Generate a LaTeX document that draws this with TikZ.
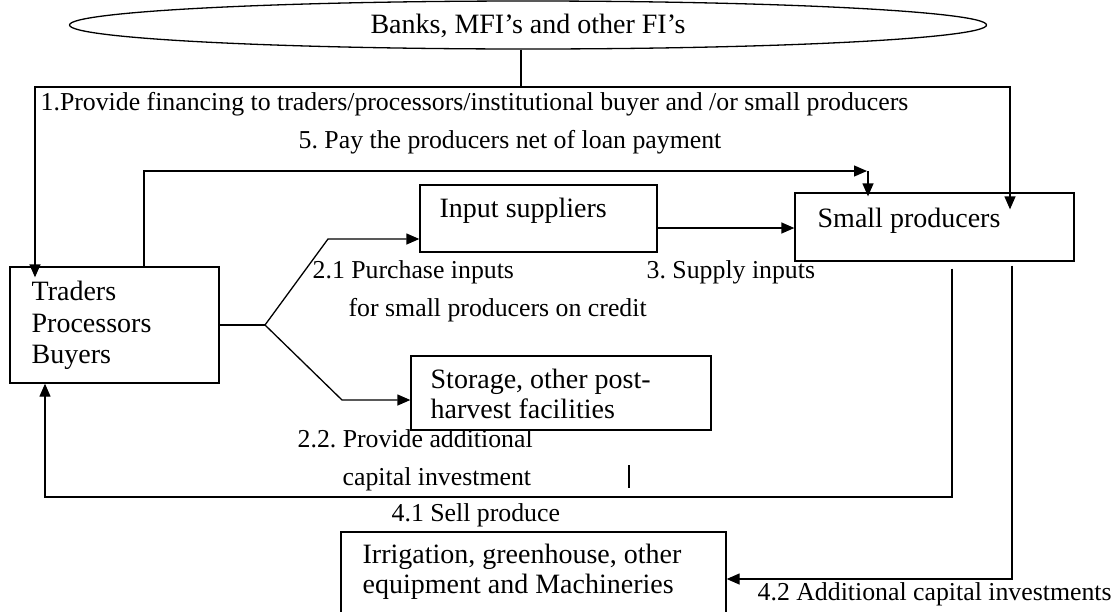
\documentclass[tikz,border=0pt]{standalone}
\usepackage{fontspec}
\setmainfont{Liberation Serif}
\usetikzlibrary{shapes.geometric,arrows.meta,calc}
\frenchspacing
\begin{document}
\begin{tikzpicture}[x=1pt,y=-1pt,line width=1.3pt,
  box/.style={draw,rectangle,inner sep=0pt},
  arr/.style={-{Triangle[length=13pt,width=11pt]}},
  boxtxt/.style={anchor=base west,inner sep=0pt,font=\fontsize{28}{32}\selectfont},
  lbl/.style={anchor=base west,inner sep=0pt,font=\fontsize{25.8}{30}\selectfont}]
\useasboundingbox (0,0) rectangle (1114,611);
\clip (0,0) rectangle (1114,611);
% nodes
\node[draw,ellipse,inner sep=0pt,minimum width=917pt,minimum height=48pt] (banks) at (528,25) {};
\node[anchor=base,inner sep=0pt,font=\fontsize{28}{32}\selectfont] (banksT) at (528,33) {Banks, MFI’s and other FI’s};
\node[box,minimum width=209pt,minimum height=116pt] (TR) at (114.5,325) {};
\node[boxtxt] (tr1) at (31,300) {Traders};
\node[boxtxt] (tr2) at (31,332) {Processors};
\node[boxtxt] (tr3) at (31,363) {Buyers};
\node[box,minimum width=237pt,minimum height=67pt] (IS) at (538.5,218.5) {};
\node[boxtxt] (isT) at (439,217) {Input suppliers};
\node[box,minimum width=279pt,minimum height=68pt] (SP) at (934.5,227) {};
\node[boxtxt] (spT) at (817,227) {Small producers};
\node[box,minimum width=300pt,minimum height=74pt] (ST) at (561,393) {};
\node[boxtxt] (st1) at (430,388) {Storage, other post-};
\node[boxtxt] (st2) at (430,418) {harvest facilities};
\node[box,minimum width=385pt,minimum height=100pt] (IR) at (533.5,582) {};
\node[boxtxt] (ir1) at (362,563) {Irrigation, greenhouse, other};
\node[boxtxt] (ir2) at (362,593) {equipment and Machineries};
% labels
\node[lbl] (l1) at (40,110) {1.Provide financing to traders/processors/institutional buyer and /or small producers};
\node[lbl] (l5) at (298,148) {5. Pay the producers net of loan payment};
\node[lbl] (l21a) at (312,278) {2.1 Purchase inputs};
\node[lbl] (l21b) at (348,316) {for small producers on credit};
\node[lbl] (l3) at (646,278) {3. Supply inputs};
\node[lbl] (l22a) at (297,447) {2.2. Provide additional};
\node[lbl] (l22b) at (342,485) {capital investment};
\node[lbl] (l41) at (391,521) {4.1 Sell produce};
\node[lbl] (l42) at (757,600) {4.2 Additional capital investments};
% connectors
\coordinate (j1) at (521,87);
\coordinate (fl) at (35,87);
\coordinate (fr) at (1010,87);
\draw (banks.south -| j1) -- (j1);
\draw[arr] (j1) -- (fl) -- ($(fl |- TR.north)+(0,11)$);
\draw[arr] (j1) -- (fr) -- ($(fr |- SP.north)+(0,17)$);
\coordinate (p5a) at (144,171);
\coordinate (p5b) at (867,171);
\coordinate (p5c) at (868,171);
\draw[arr] (p5a |- TR.north) -- (p5a) -- (p5b);
\draw[arr] (p5c) -- ($(p5c |- SP.north)+(0,4)$);
\coordinate (br) at (265,325);
\coordinate (bu) at (328,239);
\coordinate (bd) at (342,400);
\draw (TR.east) -- (br);
\draw[arr] (br) -- (bu) -- (IS.west |- bu);
\draw[arr] (br) -- (bd) -- (ST.west |- bd);
\coordinate (s3) at (0,228);
\draw[arr] (IS.east |- s3) -- (SP.west |- s3);
\coordinate (s4a) at (952,497);
\coordinate (s4b) at (45,497);
\draw[arr] ($(s4a |- SP.south)+(0,7)$) -- (s4a) -- (s4b) -- (s4b |- TR.south);
\coordinate (s42) at (1012,579);
\draw[arr] ($(s42 |- SP.south)+(0,4)$) -- (s42) -- (IR.east |- s42);
\coordinate (tk1) at (629,465);
\coordinate (tk2) at (629,488);
\draw (tk1) -- (tk2);
\end{tikzpicture}
\end{document}
